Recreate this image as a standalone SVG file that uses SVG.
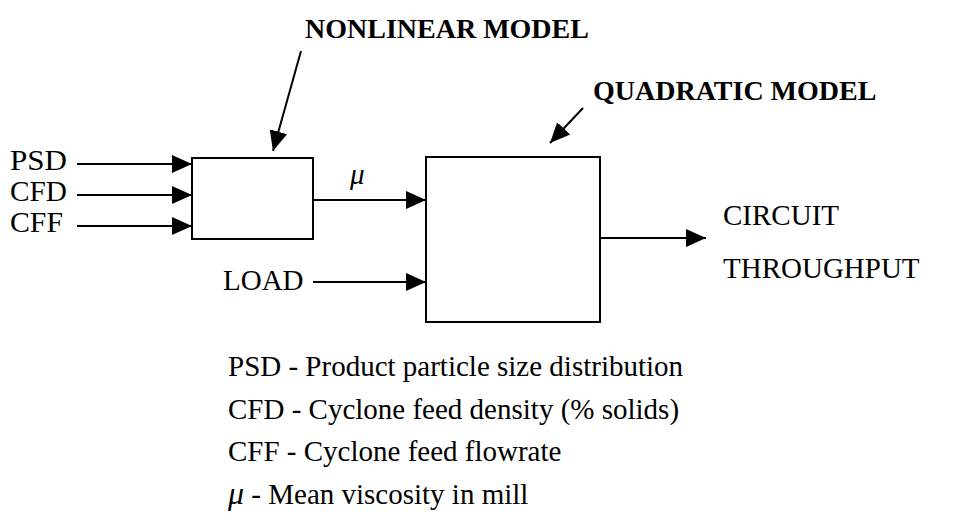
<svg xmlns="http://www.w3.org/2000/svg" width="974" height="526" viewBox="0 0 974 526">
<defs>
<style>
.t{font-family:"Liberation Serif","Times New Roman",serif;fill:#000;font-size:29px}
.b{font-weight:bold;font-size:28px}
.box{fill:#fff;stroke:#000;stroke-width:2}
.ln{stroke:#000;stroke-width:2;fill:none}
</style>
<marker id="ah" markerUnits="userSpaceOnUse" markerWidth="22" markerHeight="20" refX="20" refY="9" orient="auto" viewBox="0 0 22 18">
<path d="M0,0 L20,9 L0,18 Z" fill="#000"/>
</marker>
</defs>
<rect width="974" height="526" fill="#fff"/>
<g id="connectors">
<line class="ln" x1="77" y1="164" x2="192" y2="164" marker-end="url(#ah)"/>
<line class="ln" x1="77" y1="195" x2="192" y2="195" marker-end="url(#ah)"/>
<line class="ln" x1="77" y1="226" x2="192" y2="226" marker-end="url(#ah)"/>
<line class="ln" x1="313" y1="200" x2="426" y2="200" marker-end="url(#ah)"/>
<line class="ln" x1="313" y1="282" x2="426" y2="282" marker-end="url(#ah)"/>
<line class="ln" x1="600" y1="238" x2="706" y2="238" marker-end="url(#ah)"/>
<line class="ln" x1="301" y1="51" x2="273" y2="151" marker-end="url(#ah)"/>
<line class="ln" x1="583" y1="108" x2="550" y2="143" marker-end="url(#ah)"/>
</g>
<g id="nonlinear">
<rect class="box" x="192" y="158" width="121" height="81"/>
<text class="t b" x="305" y="38">NONLINEAR MODEL</text>
</g>
<g id="quadratic">
<rect class="box" x="426" y="157" width="174" height="165"/>
<text class="t b" x="593" y="100">QUADRATIC MODEL</text>
</g>
<g id="inputs">
<text class="t" x="10" y="170" textLength="57" lengthAdjust="spacingAndGlyphs">PSD</text>
<text class="t" x="10" y="201" textLength="57" lengthAdjust="spacingAndGlyphs">CFD</text>
<text class="t" x="10" y="232" textLength="53" lengthAdjust="spacingAndGlyphs">CFF</text>
<text class="t" x="223" y="290" font-size="31">LOAD</text>
<text class="t" x="350" y="184" font-style="italic" font-size="34">μ</text>
</g>
<g id="output">
<text class="t" x="723" y="225" font-size="30">CIRCUIT</text>
<text class="t" x="723" y="278" font-size="30">THROUGHPUT</text>
</g>
<g id="legend">
<text class="t" x="228" y="376">PSD - Product particle size distribution</text>
<text class="t" x="228" y="419">CFD - Cyclone feed density (% solids)</text>
<text class="t" x="228" y="461">CFF - Cyclone feed flowrate</text>
<text class="t" x="228" y="504"><tspan font-style="italic" font-size="32">μ</tspan> - Mean viscosity in mill</text>
</g>
</svg>
